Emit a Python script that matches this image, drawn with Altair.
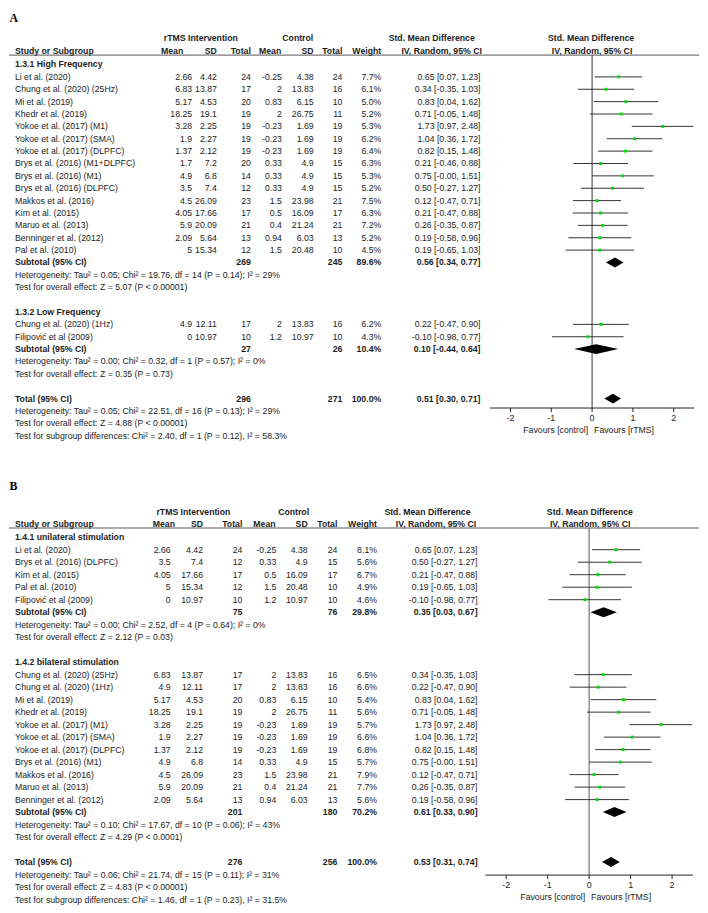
import altair as alt
import pandas as pd

FONT = "Liberation Sans"
TXT = "#1c1c1c"
FS = 8.8

# ---------------- Panel A data ----------------
a_groups = ["1.3.1 High Frequency", "1.3.2 Low Frequency"]
a_study = ["Li et al. (2020)", "Chung et al. (2020) (25Hz)", "Mi et al. (2019)", "Khedr et al. (2019)",
           "Yokoe et al. (2017) (M1)", "Yokoe et al. (2017) (SMA)", "Yokoe et al. (2017) (DLPFC)",
           "Brys et al. (2016) (M1+DLPFC)", "Brys et al. (2016) (M1)", "Brys et al. (2016) (DLPFC)",
           "Makkos et al. (2016)", "Kim et al. (2015)", "Maruo et al. (2013)", "Benninger et al. (2012)",
           "Pal et al. (2010)", "Chung et al. (2020) (1Hz)", "Filipović et al (2009)"]
a_group_of = [0, 0, 0, 0, 0, 0, 0, 0, 0, 0, 0, 0, 0, 0, 0, 1, 1]
a_m1 = [2.66, 6.83, 5.17, 18.25, 3.28, 1.9, 1.37, 1.7, 4.9, 3.5, 4.5, 4.05, 5.9, 2.09, 5, 4.9, 0]
a_sd1 = [4.42, 13.87, 4.53, 19.1, 2.25, 2.27, 2.12, 7.2, 6.8, 7.4, 26.09, 17.66, 20.09, 5.64, 15.34, 12.11, 10.97]
a_n1 = [24, 17, 20, 19, 19, 19, 19, 20, 14, 12, 23, 17, 21, 13, 12, 17, 10]
a_m2 = [-0.25, 2, 0.83, 2, -0.23, -0.23, -0.23, 0.33, 0.33, 0.33, 1.5, 0.5, 0.4, 0.94, 1.5, 2, 1.2]
a_sd2 = [4.38, 13.83, 6.15, 26.75, 1.69, 1.69, 1.69, 4.9, 4.9, 4.9, 23.98, 16.09, 21.24, 6.03, 20.48, 13.83, 10.97]
a_n2 = [24, 16, 10, 11, 19, 19, 19, 15, 15, 15, 21, 17, 21, 13, 10, 16, 10]
a_weight = [7.7, 6.1, 5.0, 5.2, 5.3, 6.2, 6.4, 6.3, 5.3, 5.2, 7.5, 6.3, 7.2, 5.2, 4.5, 6.2, 4.3]
a_smd = [0.65, 0.34, 0.83, 0.71, 1.73, 1.04, 0.82, 0.21, 0.75, 0.50, 0.12, 0.21, 0.26, 0.19, 0.19, 0.22, -0.10]
a_lo = [0.07, -0.35, 0.04, -0.05, 0.97, 0.36, 0.15, -0.46, -0.00, -0.27, -0.47, -0.47, -0.35, -0.58, -0.65, -0.47, -0.98]
a_hi = [1.23, 1.03, 1.62, 1.48, 2.48, 1.72, 1.48, 0.88, 1.51, 1.27, 0.71, 0.88, 0.87, 0.96, 1.03, 0.90, 0.77]
a_sub_n1 = [269, 27]
a_sub_n2 = [245, 26]
a_sub_weight = [89.6, 10.4]
a_sub_smd = [0.56, 0.10]
a_sub_lo = [0.34, -0.44]
a_sub_hi = [0.77, 0.64]
a_sub_het = ["Heterogeneity: Tau² = 0.05; Chi² = 19.76, df = 14 (P = 0.14); I² = 29%",
             "Heterogeneity: Tau² = 0.00; Chi² = 0.32, df = 1 (P = 0.57); I² = 0%"]
a_sub_test = ["Test for overall effect: Z = 5.07 (P < 0.00001)",
              "Test for overall effect: Z = 0.35 (P = 0.73)"]
a_total = [296, 271, 100.0, 0.51, 0.30, 0.71]
a_total_het = "Heterogeneity: Tau² = 0.05; Chi² = 22.51, df = 16 (P = 0.13); I² = 29%"
a_total_test = "Test for overall effect: Z = 4.88 (P < 0.00001)"
a_diff = "Test for subgroup differences: Chi² = 2.40, df = 1 (P = 0.12), I² = 58.3%"

# ---------------- Panel B data ----------------
b_groups = ["1.4.1 unilateral stimulation", "1.4.2 bilateral stimulation"]
b_study = ["Li et al. (2020)", "Brys et al. (2016) (DLPFC)", "Kim et al. (2015)", "Pal et al. (2010)",
           "Filipović et al (2009)",
           "Chung et al. (2020) (25Hz)", "Chung et al. (2020) (1Hz)", "Mi et al. (2019)", "Khedr et al. (2019)",
           "Yokoe et al. (2017) (M1)", "Yokoe et al. (2017) (SMA)", "Yokoe et al. (2017) (DLPFC)",
           "Brys et al. (2016) (M1)", "Makkos et al. (2016)", "Maruo et al. (2013)", "Benninger et al. (2012)"]
b_group_of = [0, 0, 0, 0, 0, 1, 1, 1, 1, 1, 1, 1, 1, 1, 1, 1]
b_m1 = [2.66, 3.5, 4.05, 5, 0, 6.83, 4.9, 5.17, 18.25, 3.28, 1.9, 1.37, 4.9, 4.5, 5.9, 2.09]
b_sd1 = [4.42, 7.4, 17.66, 15.34, 10.97, 13.87, 12.11, 4.53, 19.1, 2.25, 2.27, 2.12, 6.8, 26.09, 20.09, 5.64]
b_n1 = [24, 12, 17, 12, 10, 17, 17, 20, 19, 19, 19, 19, 14, 23, 21, 13]
b_m2 = [-0.25, 0.33, 0.5, 1.5, 1.2, 2, 2, 0.83, 2, -0.23, -0.23, -0.23, 0.33, 1.5, 0.4, 0.94]
b_sd2 = [4.38, 4.9, 16.09, 20.48, 10.97, 13.83, 13.83, 6.15, 26.75, 1.69, 1.69, 1.69, 4.9, 23.98, 21.24, 6.03]
b_n2 = [24, 15, 17, 10, 10, 16, 16, 10, 11, 19, 19, 19, 15, 21, 21, 13]
b_weight = [8.1, 5.6, 6.7, 4.9, 4.6, 6.5, 6.6, 5.4, 5.6, 5.7, 6.6, 6.8, 5.7, 7.9, 7.7, 5.6]
b_smd = [0.65, 0.50, 0.21, 0.19, -0.10, 0.34, 0.22, 0.83, 0.71, 1.73, 1.04, 0.82, 0.75, 0.12, 0.26, 0.19]
b_lo = [0.07, -0.27, -0.47, -0.65, -0.98, -0.35, -0.47, 0.04, -0.05, 0.97, 0.36, 0.15, -0.00, -0.47, -0.35, -0.58]
b_hi = [1.23, 1.27, 0.88, 1.03, 0.77, 1.03, 0.90, 1.62, 1.48, 2.48, 1.72, 1.48, 1.51, 0.71, 0.87, 0.96]
b_sub_n1 = [75, 201]
b_sub_n2 = [76, 180]
b_sub_weight = [29.8, 70.2]
b_sub_smd = [0.35, 0.61]
b_sub_lo = [0.03, 0.33]
b_sub_hi = [0.67, 0.90]
b_sub_het = ["Heterogeneity: Tau² = 0.00; Chi² = 2.52, df = 4 (P = 0.64); I² = 0%",
             "Heterogeneity: Tau² = 0.10; Chi² = 17.67, df = 10 (P = 0.06); I² = 43%"]
b_sub_test = ["Test for overall effect: Z = 2.12 (P = 0.03)",
              "Test for overall effect: Z = 4.29 (P < 0.0001)"]
b_total = [276, 256, 100.0, 0.53, 0.31, 0.74]
b_total_het = "Heterogeneity: Tau² = 0.06; Chi² = 21.74, df = 15 (P = 0.11); I² = 31%"
b_total_test = "Test for overall effect: Z = 4.83 (P < 0.00001)"
b_diff = "Test for subgroup differences: Chi² = 1.46, df = 1 (P = 0.23), I² = 31.5%"

# header texts and axis ticks
hdr_top = ["rTMS Intervention", "Control", "Std. Mean Difference", "Std. Mean Difference"]
hdr_sub = ["Study or Subgroup", "Mean", "SD", "Total", "Mean", "SD", "Total", "Weight",
           "IV, Random, 95% CI", "IV, Random, 95% CI"]
x_domain = [-2.5, 2.5]
tick_values = [-2, -1, 0, 1, 2]
tick_labels = ["-2", "-1", "0", "1", "2"]
favours = ["Favours [control]", "Favours [rTMS]"]


def fmt(v):
    return f"{v:g}"


def build(groups, group_of, study, m1, sd1, n1, m2, sd2, n2, weight, smd, lo, hi,
          s_n1, s_n2, s_w, s_smd, s_lo, s_hi, s_het, s_test, total, t_het, t_test, diff):
    rows, ci, dia = [], [], []
    r = 0

    def row(rr, **kw):
        d = dict(row=rr, label="", m1="", sd1="", n1="", m2="", sd2="", n2="", w="", smd="", bold="n")
        d.update(kw)
        rows.append(d)

    def diamond(k, rr, est, l, h):
        dia.extend([dict(id=k, x=l, y=rr, y2=rr), dict(id=k, x=est, y=rr - 0.4, y2=rr + 0.4),
                    dict(id=k, x=h, y=rr, y2=rr)])

    for g, gname in enumerate(groups):
        row(r, label=gname, bold="b")
        r += 1
        for i in range(len(study)):
            if group_of[i] != g:
                continue
            row(r, label=study[i], m1=fmt(m1[i]), sd1=fmt(sd1[i]), n1=fmt(n1[i]),
                m2=fmt(m2[i]), sd2=fmt(sd2[i]), n2=fmt(n2[i]), w=f"{weight[i]:.1f}%",
                smd=f"{smd[i]:.2f} [{lo[i]:.2f}, {hi[i]:.2f}]")
            ci.append(dict(row=r, est=smd[i], lo=lo[i], hi=hi[i]))
            r += 1
        row(r, label="Subtotal (95% CI)", n1=fmt(s_n1[g]), n2=fmt(s_n2[g]), w=f"{s_w[g]:.1f}%",
            smd=f"{s_smd[g]:.2f} [{s_lo[g]:.2f}, {s_hi[g]:.2f}]", bold="b")
        diamond(f"s{g}", r, s_smd[g], s_lo[g], s_hi[g])
        r += 1
        row(r, label=s_het[g]); r += 1
        row(r, label=s_test[g]); r += 1
        r += 1
    tn1, tn2, tw, te, tl, th = total
    row(r, label="Total (95% CI)", n1=fmt(tn1), n2=fmt(tn2), w=f"{tw:.1f}%",
        smd=f"{te:.2f} [{tl:.2f}, {th:.2f}]", bold="b")
    diamond("t", r, te, tl, th)
    r += 1
    row(r, label=t_het); r += 1
    row(r, label=t_test); r += 1
    row(r, label=diff)
    return pd.DataFrame(rows), pd.DataFrame(ci), pd.DataFrame(dia), r


SHIFT = -2  # horizontal shift of all table/plot positions


def panel(letter, tab, ci, dia, nrows, g):
    xr = [v + SHIFT for v in g["xrange"]]
    xs = alt.Scale(domain=x_domain, range=xr, nice=False, zero=False)
    ys = alt.Scale(domain=[0, nrows], range=g["yrange"], nice=False, zero=False)
    y0, y1 = g["yrange"]
    step = (y1 - y0) / nrows

    def rowpos(px):
        return (px - y0) / step

    ar = rowpos(g["axis_y"])
    Y = lambda f: alt.Y(f, scale=ys, axis=None)
    X = lambda f: alt.X(f, scale=xs, axis=None)
    L = []
    L.append(alt.Chart(pd.DataFrame({"t": [letter]})).mark_text(
        font="Liberation Serif", fontSize=12, fontWeight="bold", align="left",
        baseline="top", color="#000").encode(
        text="t:N", x=alt.value(0.5), y=alt.value(g["letter_y"])))
    for txt, (x, al) in zip(hdr_top, g["top_pos"]):
        L.append(alt.Chart(pd.DataFrame({"t": [txt]})).mark_text(
            font=FONT, fontSize=FS, fontWeight="bold", align=al, baseline="alphabetic",
            color=TXT).encode(text="t:N", x=alt.value(x + SHIFT), y=alt.value(g["h1"])))
    for txt, (x, al) in zip(hdr_sub, g["sub_pos"]):
        L.append(alt.Chart(pd.DataFrame({"t": [txt]})).mark_text(
            font=FONT, fontSize=FS, fontWeight="bold", align=al, baseline="alphabetic",
            color=TXT).encode(text="t:N", x=alt.value(x + SHIFT), y=alt.value(g["h2"])))
    L.append(alt.Chart(pd.DataFrame({"t": [0]})).mark_rule(color="#555", strokeWidth=1).encode(
        x=alt.value(0), x2=alt.value(697), y=alt.value(g["line_y"])))
    for field, (x, al) in zip(["label", "m1", "sd1", "n1", "m2", "sd2", "n2", "w", "smd"], g["cols"]):
        for b in ("n", "b"):
            L.append(alt.Chart(tab).transform_filter(alt.datum.bold == b).mark_text(
                font=FONT, fontSize=FS, fontWeight="bold" if b == "b" else "normal",
                align=al, baseline="middle", color=TXT).encode(
                text=f"{field}:N", x=alt.value(x + SHIFT), y=Y("row:Q")))
    # zero line
    L.append(alt.Chart(pd.DataFrame({"x": [0], "y": [rowpos(g["line_y"])], "y2": [ar]}))
             .mark_rule(color=g["zero_color"], strokeWidth=1).encode(x=X("x:Q"), y=Y("y:Q"), y2="y2:Q"))
    # axis: domain line, ticks, labels
    L.append(alt.Chart(pd.DataFrame({"x": [x_domain[0]], "x2": [x_domain[1]], "y": [ar]}))
             .mark_rule(color="#222", strokeWidth=1).encode(x=X("x:Q"), x2="x2:Q", y=Y("y:Q")))
    tdf = pd.DataFrame({"x": tick_values, "lab": tick_labels, "y": [ar] * len(tick_values),
                        "y2": [rowpos(g["axis_y"] + 4)] * len(tick_values)})
    L.append(alt.Chart(tdf).mark_rule(color="#222", strokeWidth=1).encode(
        x=X("x:Q"), y=Y("y:Q"), y2="y2:Q"))
    L.append(alt.Chart(tdf).mark_text(font=FONT, fontSize=9, color=TXT, baseline="middle",
                                      align="center", dy=10).encode(
        x=X("x:Q"), y=Y("y:Q"), text="lab:N"))
    # confidence intervals and point estimates
    L.append(alt.Chart(ci).mark_rule(color="#333", strokeWidth=1).encode(
        x=X("lo:Q"), x2="hi:Q", y=Y("row:Q")))
    L.append(alt.Chart(ci).mark_square(size=9, color="#00dd00", opacity=1).encode(
        x=X("est:Q"), y=Y("row:Q")))
    L.append(alt.Chart(dia).mark_area(color="#000", orient="vertical").encode(
        x=X("x:Q"), y=alt.Y("y:Q", scale=ys, axis=None, stack=None), y2="y2:Q", detail="id:N"))
    fdf = pd.DataFrame({"x": [0, 0], "t": favours, "y": [ar, ar]})
    for i, (al, dx) in enumerate([("right", -4), ("left", 2)]):
        L.append(alt.Chart(fdf).transform_filter(alt.datum.t == favours[i]).mark_text(
            font=FONT, fontSize=FS, align=al, dx=dx, dy=22, baseline="middle", color=TXT).encode(
            x=X("x:Q"), y=Y("y:Q"), text="t:N"))
    return alt.layer(*L).properties(width=697, height=g["height"])


LABX = 8
geo_a = dict(
    height=471, letter_y=0, h1=28, h2=41, line_y=42, axis_y=398.5, zero_color="#333",
    xrange=[487.9, 694.1], yrange=[51.5, 426.5],
    top_pos=[(195.8, "center"), (293.7, "center"), (429, "center"), (590, "center")],
    sub_pos=[(LABX, "left"), (178, "right"), (212, "right"), (246.3, "right"), (277, "right"),
             (309.7, "right"), (338.7, "right"), (378, "right"), (439, "center"), (591, "center")],
    cols=[(LABX, "left"), (187, "right"), (212, "right"), (246.3, "right"), (277.7, "right"),
          (309.7, "right"), (338.7, "right"), (378, "right"), (478.3, "right")],
)
geo_b = dict(
    height=432, letter_y=1.5, h1=35.3, h2=47.7, line_y=48.7, axis_y=399.3, zero_color="#555",
    xrange=[483.25, 692.75], yrange=[58, 424],
    top_pos=[(188.3, "center"), (289.5, "center"), (424.7, "center"), (588.8, "center")],
    sub_pos=[(LABX, "left"), (169.7, "right"), (198, "right"), (237.7, "right"), (271.3, "right"),
             (303.7, "right"), (333.7, "right"), (373.7, "right"), (433.3, "center"), (589, "center")],
    cols=[(LABX, "left"), (165.3, "right"), (198, "right"), (237.7, "right"), (272, "right"),
          (303.7, "right"), (333.7, "right"), (373.7, "right"), (475.3, "right")],
)

ta, ca, da, na = build(a_groups, a_group_of, a_study, a_m1, a_sd1, a_n1, a_m2, a_sd2, a_n2, a_weight,
                       a_smd, a_lo, a_hi, a_sub_n1, a_sub_n2, a_sub_weight, a_sub_smd, a_sub_lo,
                       a_sub_hi, a_sub_het, a_sub_test, a_total, a_total_het, a_total_test, a_diff)
tb, cb, db, nb = build(b_groups, b_group_of, b_study, b_m1, b_sd1, b_n1, b_m2, b_sd2, b_n2, b_weight,
                       b_smd, b_lo, b_hi, b_sub_n1, b_sub_n2, b_sub_weight, b_sub_smd, b_sub_lo,
                       b_sub_hi, b_sub_het, b_sub_test, b_total, b_total_het, b_total_test, b_diff)

pa = panel("A", ta, ca, da, na, geo_a)
pb = panel("B", tb, cb, db, nb, geo_b)

chart = alt.vconcat(pa, pb, spacing=0, bounds="flush").properties(
    padding=0, background="white").configure_view(stroke=None)

chart.save("out.html", embed_options={"renderer": "svg", "actions": False})
